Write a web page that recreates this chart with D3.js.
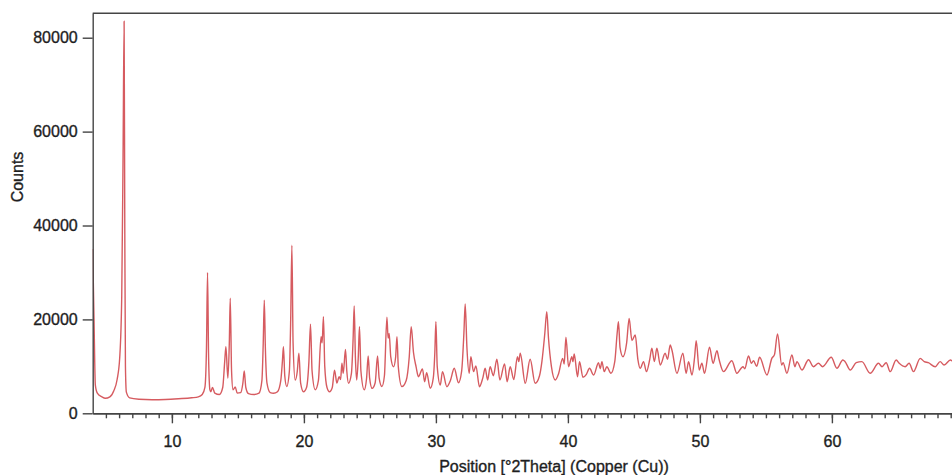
<!DOCTYPE html>
<html>
<head>
<meta charset="utf-8">
<script src="https://cdn.jsdelivr.net/npm/d3@7"></script>
<style>
  html, body { margin: 0; padding: 0; background: #fff; }
  svg { display: block; font-family: "Liberation Sans", Arial, sans-serif; }
</style>
</head>
<body>
<script>
// XRD trace: peak tops, feet and valleys
const twoTheta = [
  4.00, 4.10, 4.20, 4.35, 4.70, 4.95, 5.30, 5.60, 5.85, 6.05, 6.20, 6.30, 6.38, 6.43, 6.48, 6.55, 6.80,
  7.5, 8.5, 9.5, 10.5, 11.5, 12.0, 12.3, 12.5, 12.62, 12.70, 12.78, 12.88, 12.95, 13.07, 13.25, 13.6,
  13.85, 14.0, 14.09, 14.24, 14.35, 14.42, 14.52, 14.63, 14.8, 14.95, 15.2, 15.38, 15.48, 15.6, 15.8,
  16.2, 16.6, 16.82, 16.92, 17.0, 17.08, 17.2, 17.45, 17.7, 18.0, 18.25, 18.37, 18.45, 18.55, 18.7,
  18.9, 19.0, 19.09, 19.18, 19.34, 19.5, 19.62, 19.75, 19.97, 20.2, 20.38, 20.5, 20.62, 20.86, 21.1,
  21.3, 21.38, 21.48, 21.58, 21.75, 21.94, 22.15, 22.32, 22.5, 22.67, 22.78, 22.88, 22.98, 23.15,
  23.25, 23.38, 23.6, 23.73, 23.81, 23.9, 24.0, 24.12, 24.21, 24.32, 24.57, 24.75, 24.87, 24.98,
  25.17, 25.4, 25.58, 25.7, 25.91, 26.1, 26.29, 26.38, 26.46, 26.58, 26.79, 26.95, 27.05, 27.15,
  27.42, 27.75, 27.98, 28.13, 28.3, 28.5, 28.68, 28.98, 29.15, 29.3, 29.57, 29.8, 29.92, 30.0, 30.1,
  30.33, 30.5, 30.83, 31.1, 31.39, 31.71, 31.95, 32.12, 32.22, 32.35, 32.52, 32.65, 32.85, 33.03,
  33.3, 33.55, 33.73, 33.92, 34.11, 34.35, 34.62, 34.85, 35.2, 35.4, 35.63, 35.9, 36.18, 36.28,
  36.39, 36.77, 37.14, 37.52, 37.85, 38.03, 38.25, 38.4, 38.53, 38.75, 39.04, 39.3, 39.6, 39.72,
  39.85, 40.05, 40.3, 40.38, 40.48, 40.73, 40.88, 41.14, 41.4, 41.64, 41.95, 42.32, 42.45, 42.58,
  42.75, 42.95, 43.26, 43.55, 43.73, 43.83, 43.95, 44.17, 44.45, 44.64, 44.85, 45.1, 45.3, 45.48,
  45.73, 45.95, 46.2, 46.36, 46.55, 46.74, 47.0, 47.37, 47.55, 47.75, 47.88, 48.26, 48.71, 48.96,
  49.14, 49.4, 49.6, 49.72, 49.95, 50.15, 50.35, 50.73, 51.0, 51.29, 51.45, 51.79, 52.42, 52.8,
  53.26, 53.4, 53.68, 53.9, 54.06, 54.3, 54.52, 55.08, 55.45, 55.65, 55.88, 56.2, 56.3, 56.59,
  56.97, 57.2, 57.35, 57.73, 58.23, 58.6, 58.98, 59.3, 59.95, 60.38, 60.83, 61.0, 61.39, 61.84,
  62.27, 62.9, 63.53, 63.8, 64.11, 64.42, 64.87, 65.1, 65.55, 65.85, 66.18, 66.69, 67.0, 67.3,
  67.83, 68.2, 68.5, 68.98, 69.3, 69.6, 70.0
];
const counts = [
  35000, 20000, 6000, 4300, 3500, 3200, 3500, 4800, 7200, 12000, 25000, 55000, 83500, 40000, 10000, 4500, 3300,
  3000, 2900, 2950, 3100, 3300, 3500, 4000, 5500, 14000, 30000, 12000, 5000, 4600, 5500, 4300, 4000,
  5500, 11000, 14200, 7500, 15000, 24500, 9000, 5000, 5600, 4300, 4400, 6500, 9000, 5500, 4200,
  4000, 4300, 7000, 15000, 24100, 14000, 6500, 4400, 4260, 4600, 7000, 11000, 14200, 8000, 5700,
  9000, 20000, 35800, 15000, 7100, 9000, 12800, 6500, 4600, 5500, 11000, 19000, 9000, 5000, 7000,
  16300, 15000, 20600, 10000, 5500, 4600, 5500, 9200, 6450, 7800, 7200, 10650, 8500, 13600,
  9000, 6400, 8500, 16000, 22850, 12000, 7100, 12000, 18450, 9000, 5000, 7500, 12200, 7500,
  5300, 6500, 12200, 7500, 5700, 8000, 20450, 16000, 17000, 12000, 9900, 12000, 16300, 10000,
  5700, 7000, 12000, 18450, 13000, 9900, 7800, 9440, 6730, 8650, 5330, 7500, 13000, 19500, 10000,
  6030, 8870, 5670, 7000, 9580, 6520, 9000, 17000, 23300, 14000, 8520, 12060, 8870, 10080,
  5670, 7500, 9580, 7100, 9930, 8000, 11500, 7100, 10500, 6730, 9930, 7200, 12060, 11000,
  12780, 6390, 11500, 6390, 8000, 11000, 17000, 21650, 16000, 10000, 7100, 8500, 11700, 10500,
  16200, 9930, 12060, 11000, 12630, 7800, 11000, 7670, 8300, 9580, 8160, 10780, 9500, 11000,
  8870, 9930, 8520, 11000, 17000, 19500, 14000, 12060, 15000, 20200, 15500, 16680, 11500, 9580,
  11000, 8870, 11500, 13850, 11000, 13850, 10290, 12780, 11500, 14550, 13480, 8520, 12780, 8520,
  11000, 8160, 12000, 15460, 9220, 10650, 8520, 14060, 10650, 13330, 11500, 8870, 11200, 8520,
  9930, 9500, 12200, 10650, 11200, 10000, 11930, 8160, 11700, 12500, 16900, 10290, 10800, 8520,
  12420, 9930, 11000, 9220, 11400, 9930, 10650, 9930, 11930, 9580, 11350, 11000, 9220, 10780,
  11000, 8520, 10650, 9930, 10780, 8870, 11350, 10650, 9930, 10650, 8870, 11700, 11000, 10780,
  9930, 11000, 10290, 11350, 10800, 11200, 11000
];
const xMajorTicks = [10, 20, 30, 40, 50, 60];
const yMajorTicks = [0, 20000, 40000, 60000, 80000];
const xLabel = "Position [°2Theta] (Copper (Cu))";
const yLabel = "Counts";

const width = 952,
  height = 475,
  margin = { top: 13.3, left: 92.7, bottom: 61.7 },
  pxPerDeg = 13.2;

const svg = d3.select("body").append("svg")
  .attr("width", width)
  .attr("height", height);

// x runs past the right edge of the window, like the original screenshot
const x = d3.scaleLinear()
  .domain([4, 70])
  .range([margin.left, margin.left + 66 * pxPerDeg]);

const y = d3.scaleLinear()
  .domain([0, 85200])
  .range([height - margin.bottom, margin.top]);

const data = twoTheta.map((t, i) => [t, counts[i]]);

svg.append("clipPath").attr("id", "plot-clip")
  .append("rect")
  .attr("x", margin.left)
  .attr("y", margin.top)
  .attr("width", width - margin.left)
  .attr("height", y(0) - margin.top);

// trace
svg.append("path")
  .datum(data)
  .attr("clip-path", "url(#plot-clip)")
  .attr("fill", "none")
  .attr("stroke", "#d65b60")
  .attr("stroke-width", 1.4)
  .attr("stroke-linejoin", "round")
  .attr("d", d3.line()
    .x(d => x(d[0]))
    .y(d => y(d[1]))
    .curve(d3.curveMonotoneX));

// top frame line
svg.append("line")
  .attr("x1", margin.left).attr("x2", width)
  .attr("y1", margin.top).attr("y2", margin.top)
  .attr("stroke", "#444").attr("stroke-width", 1.4);

// x minor ticks
svg.append("g")
  .attr("class", "axis")
  .attr("transform", "translate(0," + y(0) + ")")
  .call(d3.axisBottom(x).tickValues(d3.range(5, 70)).tickSize(5).tickSizeOuter(0).tickFormat(""));

// x major ticks
svg.append("g")
  .attr("class", "axis")
  .attr("transform", "translate(0," + y(0) + ")")
  .call(d3.axisBottom(x).tickValues(xMajorTicks).tickSize(10).tickSizeOuter(0).tickPadding(12));

// y axis
svg.append("g")
  .attr("class", "axis")
  .attr("transform", "translate(" + margin.left + ",0)")
  .call(d3.axisLeft(y).tickValues(yMajorTicks).tickSize(10).tickSizeOuter(0).tickPadding(5).tickFormat(d3.format("d")));

svg.selectAll(".axis path, .axis line")
  .attr("stroke", "#444")
  .attr("stroke-width", 1.4);
svg.selectAll(".axis text")
  .attr("fill", "#1e1e1e")
  .attr("stroke", "#1e1e1e")
  .attr("stroke-width", 0.35)
  .style("font-size", "16px")
  .style("font-family", "'Liberation Sans', Arial, sans-serif");

// titles
svg.append("text")
  .attr("x", 554)
  .attr("y", 472)
  .attr("text-anchor", "middle")
  .attr("fill", "#1e1e1e")
  .attr("stroke", "#1e1e1e")
  .attr("stroke-width", 0.35)
  .style("font-size", "16px")
  .text(xLabel);

svg.append("text")
  .attr("transform", "translate(23,177) rotate(-90)")
  .attr("text-anchor", "middle")
  .attr("fill", "#1e1e1e")
  .attr("stroke", "#1e1e1e")
  .attr("stroke-width", 0.35)
  .style("font-size", "16px")
  .text(yLabel);
</script>
</body>
</html>
